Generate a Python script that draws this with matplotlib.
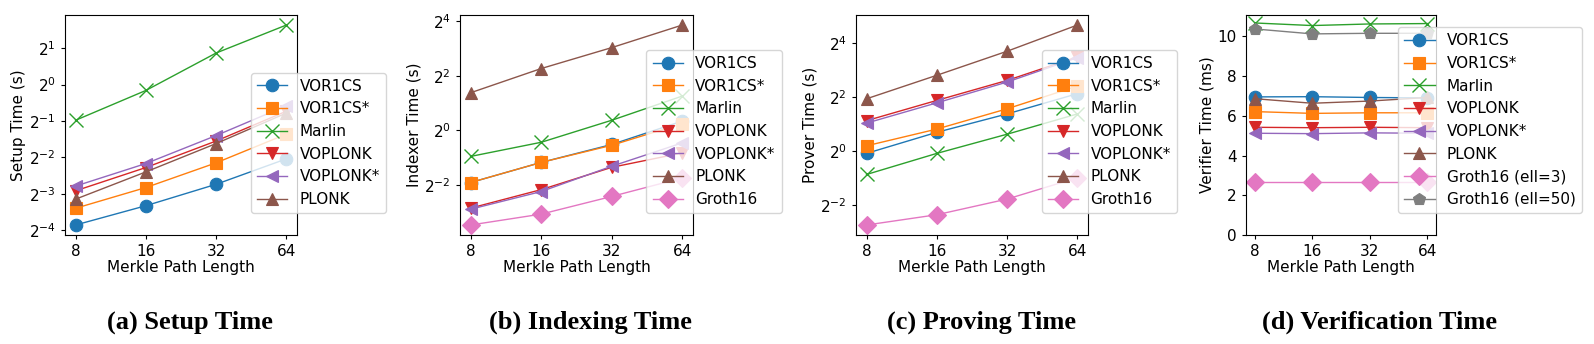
import matplotlib
matplotlib.use("Agg")
import matplotlib.pyplot as plt
import numpy as np

path_len = [8, 16, 32, 64]

# (a) Setup time (s), values as log2
setup_log2 = {
    "VOR1CS":   [-3.86, -3.33, -2.74, -2.04],
    "VOR1CS*":  [-3.40, -2.83, -2.15, -1.36],
    "Marlin":   [-0.98, -0.16, 0.87, 1.64],
    "VOPLONK":  [-2.92, -2.28, -1.55, -0.73],
    "VOPLONK*": [-2.79, -2.17, -1.40, -0.58],
    "PLONK":    [-3.15, -2.40, -1.62, -0.78],
}
# (b) Indexer time (s), log2
index_log2 = {
    "VOR1CS":   [-1.92, -1.18, -0.52, 0.34],
    "VOR1CS*":  [-1.92, -1.18, -0.55, 0.25],
    "Marlin":   [-0.96, -0.44, 0.37, 1.26],
    "VOPLONK":  [-2.86, -2.18, -1.36, -0.83],
    "VOPLONK*": [-2.90, -2.25, -1.32, -0.46],
    "PLONK":    [1.38, 2.27, 3.04, 3.87],
    "Groth16":  [-3.48, -3.08, -2.43, -1.75],
}
# (c) Prover time (s), log2
prove_log2 = {
    "VOR1CS":   [-0.09, 0.69, 1.37, 2.12],
    "VOR1CS*":  [0.19, 0.81, 1.56, 2.40],
    "Marlin":   [-0.87, -0.09, 0.62, 1.37],
    "VOPLONK":  [1.12, 1.87, 2.61, 3.48],
    "VOPLONK*": [1.03, 1.78, 2.55, 3.45],
    "PLONK":    [1.93, 2.80, 3.69, 4.66],
    "Groth16":  [-2.74, -2.36, -1.78, -0.99],
}
# (d) Verifier time (ms)
verify_ms = {
    "VOR1CS":            [6.95, 6.96, 6.92, 6.90],
    "VOR1CS*":           [6.21, 6.12, 6.15, 6.15],
    "Marlin":            [10.67, 10.54, 10.62, 10.64],
    "VOPLONK":           [5.42, 5.40, 5.42, 5.40],
    "VOPLONK*":          [5.12, 5.10, 5.14, 5.12],
    "PLONK":             [6.86, 6.63, 6.74, 6.92],
    "Groth16 (ell=3)":   [2.65, 2.65, 2.65, 2.65],
    "Groth16 (ell=50)":  [10.37, 10.12, 10.15, 10.15],
}

styles = {
    "VOR1CS": ("C0", "o"),
    "VOR1CS*": ("C1", "s"),
    "Marlin": ("C2", "x"),
    "VOPLONK": ("C3", "v"),
    "VOPLONK*": ("C4", "<"),
    "PLONK": ("C5", "^"),
    "Groth16": ("C6", "D"),
    "Groth16 (ell=3)": ("C6", "D"),
    "Groth16 (ell=50)": ("C7", "p"),
}

ylabels = ["Setup Time (s)", "Indexer Time (s)", "Prover Time (s)", "Verifier Time (ms)"]
captions = ["(a) Setup Time", "(b) Indexing Time", "(c) Proving Time", "(d) Verification Time"]

W, H = 1594, 344
fig = plt.figure(figsize=(W / 100, H / 100), dpi=100)

boxes = [(65, 232), (460, 233), (856, 232), (1246, 190)]
top, bottom = 15, 235
cap_x = [190, 590, 981, 1380]
cap_y = 322

datasets = [setup_log2, index_log2, prove_log2, verify_ms]
FS = 11

for i, (data, (x0, w)) in enumerate(zip(datasets, boxes)):
    ax = fig.add_axes([x0 / W, (H - bottom) / H, w / W, (bottom - top) / H])
    for name, vals in data.items():
        c, m = styles[name]
        y = np.power(2.0, vals) if i < 3 else np.array(vals)
        ms = 9 if m != "x" else 10
        ax.plot(path_len, y, color=c, marker=m, markersize=ms, linewidth=1.0,
                label=name, markeredgewidth=1.0 if m == "x" else 0.8)
    ax.set_xscale("log", base=2)
    ax.set_xticks(path_len)
    ax.set_xticklabels([str(v) for v in path_len])
    ax.minorticks_off()
    if i < 3:
        ax.set_yscale("log", base=2)
    else:
        ax.set_ylim(bottom=0)
    ax.tick_params(labelsize=FS, length=3)
    ax.set_xlabel("Merkle Path Length", fontsize=FS, labelpad=1)
    ax.set_ylabel(ylabels[i], fontsize=FS, labelpad=2)
    ax.legend(loc="lower left", bbox_to_anchor=(0.8, 0.1), fontsize=FS,
              handlelength=2.0, borderpad=0.4, labelspacing=0.5, borderaxespad=0)
    fig.text(cap_x[i] / W, (H - cap_y) / H, captions[i], ha="center", va="center",
             fontsize=19, fontweight="bold", family="Liberation Serif")

fig.savefig("out.png", dpi=100)
